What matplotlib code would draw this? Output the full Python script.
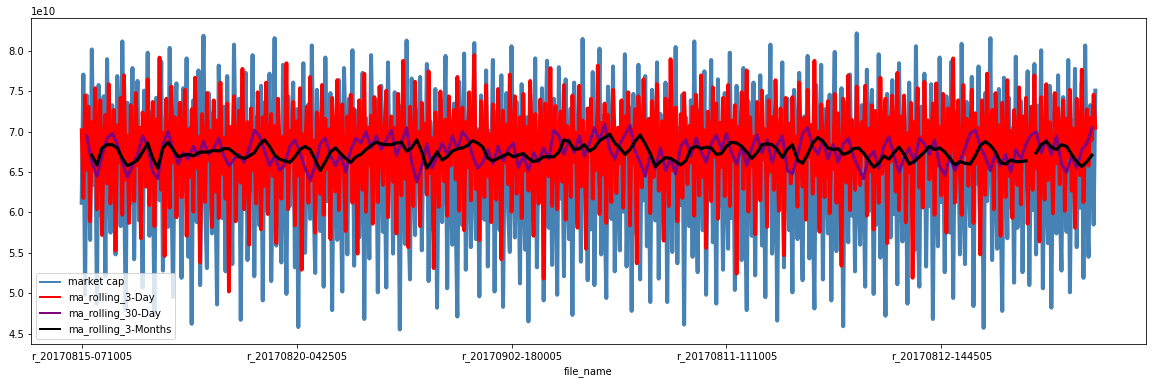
import numpy as np
import matplotlib
matplotlib.use('Agg')
import matplotlib.pyplot as plt

plt.rcParams['path.simplify'] = False

# market cap, units of 1e8
market_cap = [
	612, 771, 498, 745, 689, 566, 802, 634, 712, 487, 758, 597, 681, 744, 521, 790, 642, 575, 733, 618,
	548, 769, 701, 583, 812, 657, 479, 736, 688, 611, 779, 542, 705, 763, 590, 668, 507, 751, 633, 798,
	571, 724, 659, 473, 742, 696, 615, 787, 528, 673, 736, 582, 804, 641, 495, 717, 760, 598, 683, 519,
	754, 627, 791, 545, 705, 462, 739, 662, 588, 776, 510, 698, 819, 607, 531, 748, 693, 574, 725, 640,
	486, 782, 655, 593, 731, 527, 769, 612, 702, 536, 808, 673, 596, 741, 467, 714, 652, 773, 541, 692,
	628, 795, 521, 718, 665, 584, 757, 491, 736, 603, 687, 772, 515, 654, 816, 559, 709, 642, 538, 783,
	676, 499, 744, 608, 690, 761, 532, 728, 458, 701, 639, 785, 550, 666, 734, 592, 807, 625, 525, 752,
	683, 577, 729, 508, 792, 614, 671, 748, 479, 707, 655, 566, 764, 631, 502, 779, 693, 548, 741, 617,
	801, 534, 688, 726, 569, 652, 773, 468, 717, 640, 543, 795, 678, 612, 739, 501, 704, 757, 576, 669,
	507, 786, 643, 710, 549, 749, 621, 694, 455, 732, 658, 561, 813, 604, 517, 766, 681, 572, 727, 639,
	768, 553, 699, 626, 784, 515, 713, 662, 577, 753, 482, 690, 741, 588, 677, 794, 506, 722, 651, 560,
	735, 598, 471, 762, 675, 584, 797, 529, 686, 732, 557, 649, 810, 567, 703, 496, 745, 667, 591, 776,
	533, 701, 647, 789, 502, 724, 661, 578, 770, 483, 694, 748, 604, 551, 806, 655, 569, 737, 681, 512,
	759, 636, 554, 718, 465, 747, 683, 589, 791, 532, 697, 615, 754, 491, 672, 788, 581, 716, 535, 741,
	664, 498, 780, 617, 702, 521, 765, 644, 567, 729, 473, 761, 683, 586, 743, 539, 815, 632, 678, 516,
	711, 579, 774, 510, 687, 636, 803, 548, 719, 617, 494, 756, 692, 592, 781, 527, 704, 629, 553, 738,
	601, 796, 533, 676, 730, 478, 747, 668, 572, 783, 517, 714, 615, 769, 558, 697, 489, 752, 641, 590,
	786, 518, 722, 653, 566, 761, 489, 693, 742, 551, 658, 805, 537, 705, 609, 746, 461, 718, 684, 583,
	739, 545, 812, 622, 526, 727, 672, 578, 775, 498, 701, 631, 789, 563, 723, 487, 765, 608, 686, 529,
	748, 642, 555, 798, 593, 706, 504, 757, 619, 690, 541, 779, 605, 479, 738, 683, 571, 761, 522, 717,
	626, 770, 559, 701, 495, 744, 647, 808, 549, 603, 729, 466, 712, 635, 786, 532, 694, 741, 578, 673,
	501, 752, 684, 567, 773, 622, 516, 719, 643, 794, 543, 708, 606, 481, 758, 689, 580, 783, 517, 728,
	671, 574, 746, 491, 687, 799, 552, 715, 619, 754, 459, 736, 641, 563, 771, 596, 702, 527, 822, 625,
	560, 733, 642, 508, 777, 601, 705, 752, 499, 681, 585, 796, 544, 724, 631, 472, 747, 686, 569, 764,
	598, 708, 511, 785, 636, 564, 739, 672, 487, 761, 617, 699, 553, 806, 592, 508, 731, 648, 772, 533,
	697, 608, 759, 468, 716, 644, 558, 792, 613, 711, 526, 744, 678, 575, 787, 494, 725, 621, 693, 548,
	809, 627, 536, 737, 691, 583, 768, 484, 702, 636, 781, 562, 721, 457, 748, 614, 687, 816, 541, 659,
	726, 555, 753, 619, 478, 767, 679, 568, 742, 607, 704, 513, 793, 581, 683, 738, 526, 715, 629, 775,
	510, 696, 603, 784, 548, 732, 637, 801, 506, 713, 648, 562, 757, 482, 681, 746, 574, 770, 613, 528,
	743, 651, 576, 789, 501, 714, 633, 778, 557, 699, 606, 761, 519, 807, 622, 545, 733, 692, 585, 751,
]

# ma_rolling_3-Day, units of 1e8
ma_3day = [
	702, 618, 745, 653, 731, 589, 712, 668, 754, 604, 696, 739, 572, 688, 721, 636, 759, 611, 684, 727,
	553, 708, 662, 742, 597, 770, 641, 695, 587, 733, 676, 614, 748, 659, 705, 568, 724, 690, 632, 765,
	609, 681, 737, 583, 715, 647, 792, 628, 699, 546, 741, 673, 606, 756, 662, 718, 594, 683, 736, 619,
	687, 752, 571, 703, 644, 728, 601, 767, 655, 694, 538, 722, 679, 613, 748, 665, 701, 582, 739, 626,
	714, 593, 761, 648, 692, 617, 735, 502, 706, 671, 744, 589, 683, 726, 637, 778, 604, 669, 712, 560,
	729, 652, 696, 611, 749, 674, 579, 718, 633, 761, 598, 686, 722, 645, 707, 562, 741, 679, 617, 694,
	657, 785, 604, 701, 668, 737, 584, 713, 646, 754, 529, 697, 673, 731, 612, 768, 640, 689, 575, 724,
	691, 623, 758, 597, 716, 654, 703, 567, 742, 681, 626, 764, 603, 698, 734, 649, 577, 719, 662, 746,
	612, 728, 675, 549, 739, 691, 628, 772, 601, 705, 659, 720, 586, 743, 668, 613, 756, 687, 634, 709,
	751, 594, 682, 719, 638, 705, 574, 747, 665, 621, 788, 642, 696, 557, 731, 674, 608, 762, 647, 700,
	583, 736, 661, 710, 622, 775, 649, 692, 531, 724, 683, 607, 750, 671, 639, 715, 596, 744, 658, 687,
	727, 641, 768, 602, 695, 730, 578, 712, 656, 749, 615, 684, 795, 629, 701, 566, 738, 672, 619, 758,
	645, 697, 588, 734, 670, 616, 753, 687, 542, 726, 662, 709, 635, 771, 601, 693, 744, 623, 680, 718,
	593, 747, 652, 706, 627, 763, 684, 571, 722, 664, 611, 740, 697, 518, 735, 678, 645, 779, 608, 691,
	732, 604, 689, 725, 638, 758, 591, 707, 670, 619, 745, 663, 699, 581, 757, 632, 714, 686, 555, 729,
	676, 741, 617, 694, 653, 782, 598, 711, 647, 735, 587, 721, 668, 613, 752, 690, 624, 705, 661, 739,
	606, 719, 672, 749, 584, 703, 661, 728, 537, 744, 693, 631, 765, 650, 687, 716, 599, 738, 644, 698,
	759, 627, 684, 713, 565, 741, 676, 608, 790, 652, 697, 730, 589, 664, 722, 618, 748, 681, 635, 707,
	662, 731, 596, 746, 683, 621, 770, 644, 702, 556, 725, 689, 614, 755, 669, 735, 592, 711, 656, 742,
	620, 697, 758, 608, 714, 665, 733, 524, 706, 680, 749, 629, 691, 776, 601, 718, 658, 694, 573, 737,
	688, 615, 751, 666, 703, 582, 739, 651, 718, 628, 764, 674, 602, 729, 689, 547, 742, 661, 710, 636,
	743, 657, 694, 607, 761, 678, 632, 717, 591, 752, 669, 708, 623, 788, 646, 700, 576, 734, 685, 619,
	706, 738, 599, 681, 654, 747, 612, 723, 665, 534, 741, 692, 637, 770, 603, 715, 678, 628, 756, 671,
	634, 712, 680, 757, 596, 704, 651, 733, 579, 726, 689, 612, 767, 648, 699, 741, 562, 718, 663, 745,
	691, 626, 773, 603, 719, 672, 745, 588, 698, 650, 736, 519, 712, 687, 754, 631, 693, 606, 762, 677,
	714, 641, 689, 735, 597, 760, 658, 706, 621, 747, 683, 575, 729, 666, 701, 791, 612, 684, 739, 648,
	597, 758, 672, 716, 633, 694, 752, 587, 723, 661, 705, 548, 739, 678, 622, 772, 655, 690, 727, 604,
	748, 663, 708, 571, 736, 682, 619, 764, 645, 701, 593, 727, 688, 634, 755, 610, 719, 667, 742, 586,
	675, 731, 628, 770, 655, 697, 564, 743, 684, 616, 759, 640, 712, 677, 599, 748, 661, 729, 635, 694,
	739, 602, 716, 668, 752, 627, 704, 581, 741, 689, 646, 777, 613, 698, 728, 658, 717, 690, 746, 705,
]

# ma_rolling_30-Day, units of 1e10, one value every 3 rows from row 3
ma_30day = [
	6.95, 6.62, 6.45, 6.70, 6.92, 6.98, 6.85, 6.62, 6.44, 6.58,
	6.72, 6.95, 6.82, 6.50, 6.42, 6.85, 7.00, 6.78, 6.60, 6.74,
	6.66, 6.82, 6.70, 6.88, 6.72, 6.80, 6.92, 6.70, 6.58, 6.66,
	6.72, 6.62, 6.80, 7.02, 6.95, 6.76, 6.58, 6.70, 6.52, 6.60,
	6.82, 6.90, 6.74, 6.55, 6.40, 6.58, 6.86, 6.92, 6.70, 6.58,
	6.72, 6.50, 6.78, 6.92, 6.86, 7.00, 6.80, 6.95, 6.78, 6.90,
	7.02, 6.70, 6.88, 7.05, 6.62, 6.38, 6.58, 6.85, 6.55, 6.70,
	6.86, 6.72, 6.95, 6.78, 7.00, 6.92, 6.70, 6.55, 6.62, 6.78,
	6.60, 6.82, 6.64, 6.78, 6.86, 6.56, 6.70, 6.52, 6.74, 6.62,
	6.80, 6.66, 7.02, 6.95, 6.72, 6.90, 6.74, 6.95, 6.70, 6.86,
	7.05, 6.88, 7.10, 6.78, 6.66, 6.85, 6.96, 7.08, 6.76, 6.62,
	6.45, 6.72, 6.55, 6.80, 6.52, 6.66, 6.48, 6.82, 6.90, 6.70,
	6.92, 6.76, 6.62, 6.85, 6.96, 6.78, 6.98, 6.74, 6.60, 6.82,
	6.58, 6.80, 6.96, 6.74, 6.90, 6.62, 6.84, 6.95, 6.52, 6.48,
	6.70, 6.98, 7.05, 6.82, 6.72, 6.90, 6.66, 6.84, 6.62, 6.85,
	6.92, 6.70, 6.55, 6.42, 6.68, 6.76, 6.55, 6.82, 6.94, 6.70,
	6.50, 6.68, 6.80, 6.62, 6.92, 6.85, 6.72, 6.90, 6.58, 6.46,
	6.70, 6.52, 6.64, 6.80, 6.98, 7.02, 6.82, 6.68, 6.52, 6.74,
	6.58, 6.72, 6.50, 6.78, 6.66, 6.85, 6.96, 7.00, 6.74, 6.90,
	6.72, 6.95, 6.60, 6.50, 6.70, 6.55, 6.78, 6.86, 7.05,
]

# ma_rolling_3-Months, units of 1e10, one value every 3 rows from row 6
ma_3months = [
	6.71, 6.59, 6.80, 6.84, 6.84, 6.80, 6.67, 6.58, 6.61, 6.65,
	6.75, 6.86, 6.67, 6.55, 6.80, 6.87, 6.78, 6.69, 6.71, 6.72,
	6.70, 6.74, 6.75, 6.75, 6.77, 6.76, 6.79, 6.79, 6.74, 6.69,
	6.67, 6.70, 6.74, 6.84, 6.90, 6.82, 6.71, 6.66, 6.64, 6.62,
	6.69, 6.78, 6.82, 6.78, 6.65, 6.52, 6.63, 6.75, 6.80, 6.73,
	6.67, 6.62, 6.69, 6.72, 6.78, 6.83, 6.87, 6.85, 6.84, 6.84,
	6.86, 6.87, 6.76, 6.80, 6.90, 6.75, 6.55, 6.65, 6.75, 6.65,
	6.69, 6.76, 6.79, 6.80, 6.83, 6.89, 6.86, 6.81, 6.67, 6.64,
	6.67, 6.70, 6.73, 6.69, 6.71, 6.73, 6.67, 6.63, 6.65, 6.69,
	6.69, 6.69, 6.75, 6.90, 6.88, 6.78, 6.79, 6.84, 6.76, 6.80,
	6.89, 6.93, 6.97, 6.86, 6.80, 6.72, 6.78, 6.88, 6.96, 6.85,
	6.73, 6.57, 6.63, 6.68, 6.67, 6.63, 6.59, 6.64, 6.79, 6.82,
	6.79, 6.81, 6.80, 6.72, 6.73, 6.82, 6.87, 6.86, 6.82, 6.75,
	6.67, 6.74, 6.84, 6.85, 6.84, 6.78, 6.68, 6.78, 6.84, 6.65,
	6.61, 6.72, 6.86, 6.93, 6.88, 6.80, 6.78, 6.79, 6.72, 6.74,
	6.79, 6.80, 6.74, 6.65, 6.56, 6.61, 6.70, 6.66, 6.74, 6.81,
	6.72, 6.60, 6.63, 6.69, 6.75, 6.82, 6.78, 6.80, 6.75, 6.67,
	6.59, 6.63, 6.61, 6.60, 6.70, 6.83, 6.88, 6.83, 6.75, 6.62,
	6.60, 6.65, 6.63, 6.63, 6.64, np.nan, 6.74, 6.84, 6.88, 6.81,
	6.78, 6.84, 6.82, 6.72, 6.63, 6.57, 6.63, 6.71,
]

tick_labels = ['r_20170815-071005', 'r_20170820-042505', 'r_20170902-180005',
	'r_20170811-111005', 'r_20170812-144505']


def main():
	n = len(market_cap)
	x = np.arange(n)
	x30 = 3 + 3*np.arange(len(ma_30day))
	x90 = 6 + 3*np.arange(len(ma_3months))

	fig = plt.figure(figsize=(1153/72, 384/72), dpi=72)
	ax = fig.add_axes([31/1153, 40/384, 1115/1153, 326/384])

	ax.plot(x, np.array(market_cap)*1e8, color='steelblue', lw=4, label='market cap')
	ax.plot(x, np.array(ma_3day)*1e8, color='red', lw=3.8, label='ma_rolling_3-Day')
	ax.plot(x30, np.array(ma_30day)*1e10, color='purple', lw=3, label='ma_rolling_30-Day')
	ax.plot(x90, np.array(ma_3months)*1e10, color='black', lw=3.2, label='ma_rolling_3-Months')

	ax.set_ylim(4.37e10, 8.41e10)
	ax.set_yticks(np.arange(4.5, 8.01, 0.5)*1e10)
	ax.set_xticks(127*np.arange(len(tick_labels)))
	ax.set_xticklabels(tick_labels)
	ax.set_xlabel('file_name')

	leg = ax.legend(loc='lower left')
	for line in leg.get_lines():
		line.set_linewidth(2)

	fig.savefig('out.png', dpi=72)


if __name__ == '__main__':
	main()
